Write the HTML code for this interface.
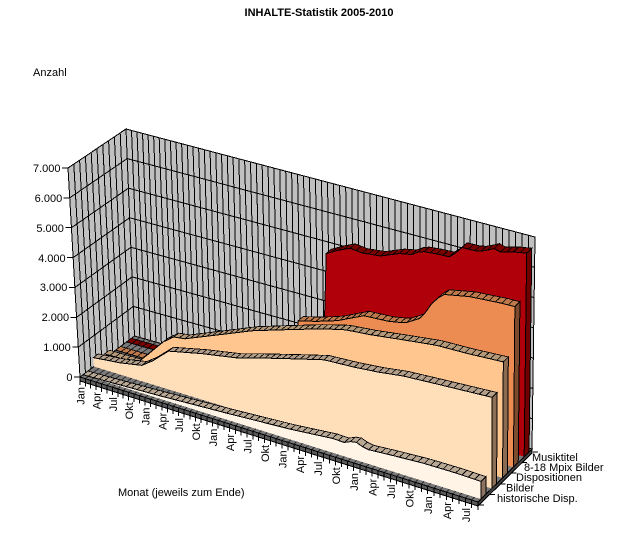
<!DOCTYPE html>
<html>
<head>
<meta charset="utf-8">
<style>
html,body{margin:0;padding:0;background:#fff;}
svg{display:block;font-family:"Liberation Sans",Arial,sans-serif;}
</style>
</head>
<body>
<svg id="c" width="640" height="548" viewBox="0 0 640 548" xmlns="http://www.w3.org/2000/svg">
<rect x="0" y="0" width="640" height="548" fill="#fff"/>
<g id="g" shape-rendering="crispEdges"></g>
<g font-size="11" fill="#000">
<text x="319" y="16" text-anchor="middle" font-weight="bold">INHALTE-Statistik 2005-2010</text>
<text x="33" y="76">Anzahl</text>
<text x="118" y="496">Monat (jeweils zum Ende)</text>
<g text-anchor="end">
<text x="60.5" y="172">7.000</text>
<text x="62.2" y="202">6.000</text>
<text x="63.9" y="232">5.000</text>
<text x="65.6" y="262">4.000</text>
<text x="67.4" y="291">3.000</text>
<text x="69.1" y="321">2.000</text>
<text x="70.8" y="351">1.000</text>
<text x="72.5" y="381">0</text>
</g>
<text x="532" y="461">Musiktitel</text>
<text x="524" y="471">8-18 Mpix Bilder</text>
<text x="516" y="481">Dispositionen</text>
<text x="506" y="491.5">Bilder</text>
<text x="497" y="502">historische Disp.</text>
<g text-anchor="end">
<text transform="translate(84.5,387) rotate(-90)">Jan</text>
<text transform="translate(100.6,392.1) rotate(-90)">Apr</text>
<text transform="translate(116.8,397.2) rotate(-90)">Jul</text>
<text transform="translate(133.2,402.3) rotate(-90)">Okt</text>
<text transform="translate(149.7,407.5) rotate(-90)">Jan</text>
<text transform="translate(166.3,412.7) rotate(-90)">Apr</text>
<text transform="translate(183.1,418.0) rotate(-90)">Jul</text>
<text transform="translate(200.0,423.3) rotate(-90)">Okt</text>
<text transform="translate(217.0,428.6) rotate(-90)">Jan</text>
<text transform="translate(234.2,434.0) rotate(-90)">Apr</text>
<text transform="translate(251.5,439.4) rotate(-90)">Jul</text>
<text transform="translate(268.9,444.9) rotate(-90)">Okt</text>
<text transform="translate(286.5,450.4) rotate(-90)">Jan</text>
<text transform="translate(304.2,456.0) rotate(-90)">Apr</text>
<text transform="translate(322.1,461.6) rotate(-90)">Jul</text>
<text transform="translate(340.1,467.3) rotate(-90)">Okt</text>
<text transform="translate(358.2,473.0) rotate(-90)">Jan</text>
<text transform="translate(376.4,478.7) rotate(-90)">Apr</text>
<text transform="translate(394.8,484.5) rotate(-90)">Jul</text>
<text transform="translate(413.4,490.3) rotate(-90)">Okt</text>
<text transform="translate(432.0,496.2) rotate(-90)">Jan</text>
<text transform="translate(450.9,502.1) rotate(-90)">Apr</text>
<text transform="translate(469.8,508.0) rotate(-90)">Jul</text>
</g>
</g>
</svg>
<script>
(function(){
var NS="http://www.w3.org/2000/svg";
var g=document.getElementById('g');
function el(tag,attrs){var e=document.createElementNS(NS,tag);for(var k in attrs)e.setAttribute(k,attrs[k]);g.appendChild(e);return e;}
var C={F0L:[80,377],F0R:[478,502],B0L:[134.5,336],B0R:[532,449],F1L:[68,168],F1R:[478,293],B1L:[126,129],B1R:[535,237]};
function L(a,b,t){return [a[0]+(b[0]-a[0])*t,a[1]+(b[1]-a[1])*t];}
function P(u,v,w){var a=L(L(C.F0L,C.F0R,u),L(C.B0L,C.B0R,u),v);var b=L(L(C.F1L,C.F1R,u),L(C.B1L,C.B1R,u),v);return L(a,b,w);}
function U(m){return (5.326*m+0.00753*m*m)/396.987;}
function pts(a){return a.map(function(p){return p[0].toFixed(2)+','+p[1].toFixed(2);}).join(' ');}
function poly(a,fill,stroke,sw){return el('polygon',{points:pts(a),fill:fill,stroke:stroke||'none','stroke-width':sw||1});}
function line(p,q,stroke,sw){return el('line',{x1:p[0].toFixed(2),y1:p[1].toFixed(2),x2:q[0].toFixed(2),y2:q[1].toFixed(2),stroke:stroke||'#000','stroke-width':sw||1});}
var k,m,j;
// back wall
poly([P(0,1,0),P(1,1,0),P(1,1,1),P(0,1,1)],'#c0c0c0','#000',1);
for(m=1;m<=67;m++)line(P(U(m),1,0),P(U(m),1,1),'#000',1);
for(k=1;k<=6;k++)line(P(0,1,k/7),P(1,1,k/7),'#000',1);
// left wall
poly([P(0,0,0),P(0,1,0),P(0,1,1),P(0,0,1)],'#c0c0c0','#000',1);
for(j=1;j<=9;j++)line(P(0,j/10,0),P(0,j/10,1),'#000',1);
for(k=1;k<=6;k++)line(P(0,0,k/7),P(0,1,k/7),'#000',1);
// floor
poly([P(0,0,0),P(1,0,0),P(1,1,0),P(0,1,0)],'#7a7a7a','#000',1);
for(m=1;m<=67;m++)line(P(U(m),0,0),P(U(m),1,0),'#2a2a2a',1);
// data
function interp(kp){var r=[];for(var m=0;m<=68;m++){var v=kp[kp.length-1][1];for(var j=0;j<kp.length-1;j++){var a=kp[j],b=kp[j+1];if(m>=a[0]&&m<=b[0]){v=a[1]+(b[1]-a[1])*(m-a[0])/(b[0]-a[0]);break;}}r.push(v);}return r;}
var S=[
 {kp:[[0,0],[6,40],[14,100],[20,160],[27,230],[37,350],[44,480],[46,470],[47,560],[48,600],[49,520],[50,480],[54,540],[59,600],[64,610],[68,590]],front:'#fff4e6',top:'#b8a894',end:'#8c7460'},
 {kp:[[0,300],[5,400],[9,540],[11,800],[14,1300],[20,1560],[26,1770],[30,2000],[34,2220],[41,2600],[46,2660],[50,2740],[54,2860],[60,2940],[68,3040]],front:'#ffdfba',top:'#b4a08a',end:'#8c6e56'},
 {kp:[[0,150],[6,170],[8,550],[11,1150],[13,1430],[15,1480],[21,1950],[27,2430],[32,2750],[38,3130],[42.5,3380],[47,3470],[52.3,3620],[57.5,3760],[62.5,3790],[68,3860]],front:'#ffc690',top:'#b49878',end:'#8a6a50'},
 {kp:[[0,0],[32,0],[33,2800],[36,2950],[39.6,3180],[44,3600],[48,3650],[50.7,3750],[53.4,4080],[55,4650],[56.7,5060],[61,5240],[66,5320],[68,5330]],front:'#ec8c52',top:'#bf7a4c',end:'#7c4a2c'},
 {kp:[[0,0],[35,0],[36,4900],[38,5120],[40,5300],[42,5250],[45,5320],[48,5570],[50,5650],[51.5,5850],[54,5900],[56.3,5920],[57.9,6340],[60,6350],[61.6,6420],[62.7,6610],[64,6540],[66,6660],[68,6730]],front:'#b0000a',top:'#7a0000',end:'#6e0000'}
];
for(var i=4;i>=0;i--){
 var s=S[i];var vf=i/5+0.055,vb=i/5+0.145;
 var d=interp(s.kp).map(function(x){return x/7000;});
 for(m=0;m<68;m++){
  poly([P(U(m),vf,d[m]),P(U(m+1),vf,d[m+1]),P(U(m+1),vb,d[m+1]),P(U(m),vb,d[m])],s.top,'#000',0.8);
 }
 var fp=[];for(m=0;m<=68;m++)fp.push(P(U(m),vf,d[m]));
 poly(fp.concat([P(1,vf,0),P(0,vf,0)]),s.front,'none');
 el('polyline',{points:pts(fp),fill:'none',stroke:'#000','stroke-width':1});
 poly([P(1,vf,d[68]),P(1,vb,d[68]),P(1,vb,0),P(1,vf,0)],s.end,'#000',1);
}
// floor thickness bands
var a0=P(0,0,0),a1=P(1,0,0),b1=P(1,1,0);
poly([a0,a1,[a1[0],a1[1]+4],[a0[0],a0[1]+4]],'#5a5a5a','#000',1);
for(m=1;m<=67;m++){var p=P(U(m),0,0);line(p,[p[0],p[1]+4],'#000',1);}
poly([a1,b1,[b1[0],b1[1]+4],[a1[0],a1[1]+4]],'#404040','#000',1);
// axes
line(P(0,0,0),P(0,0,1),'#000',1);
for(m=0;m<=68;m++){var q=P(U(m),0,0);line([q[0],q[1]+4],[q[0],q[1]+8],'#000',1);}
for(k=0;k<=7;k++){var r=P(0,0,k/7);line([r[0]-6,r[1]],r,'#000',1);}
for(k=0;k<=5;k++){var t=P(1,k/5,0);line([t[0]+1,t[1]+3],[t[0]+6,t[1]+3],'#000',1);}
})();
</script>
</body>
</html>
